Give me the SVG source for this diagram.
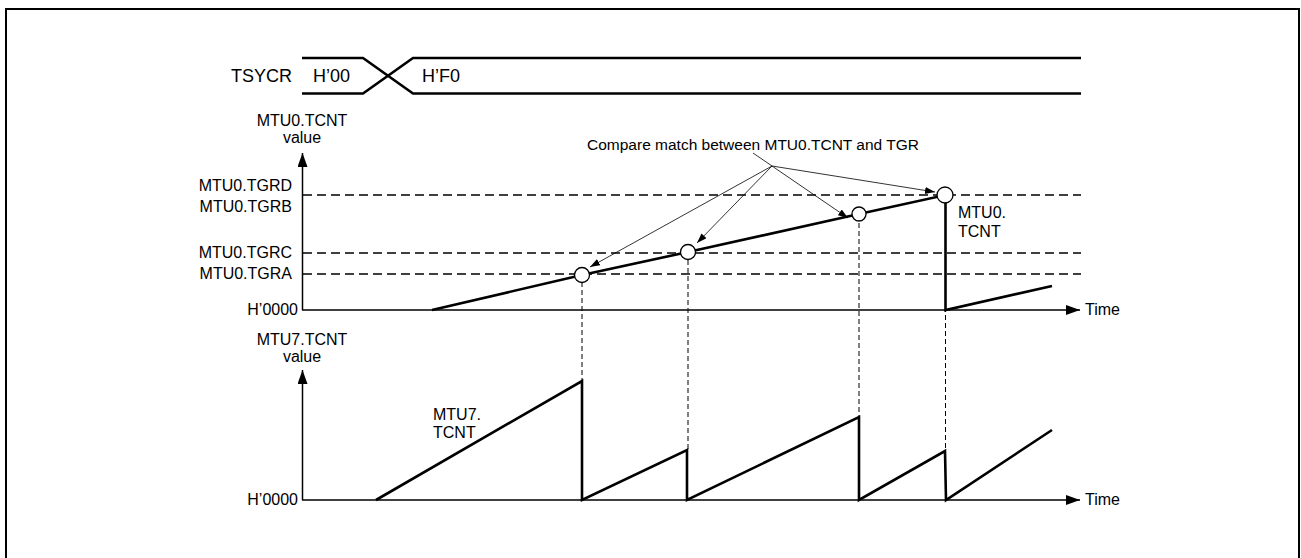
<svg xmlns="http://www.w3.org/2000/svg" width="1301" height="558" viewBox="0 0 1301 558">
<style>
text{font-family:"Liberation Sans",Arial,sans-serif;fill:#000;font-size:16px}
.big{font-size:18px}
.cm{font-size:15.5px}
.end{text-anchor:end}
.mid{text-anchor:middle}
.axis{stroke:#000;stroke-width:1.5;fill:none}
.thick{stroke:#000;stroke-width:2.6;fill:none;stroke-linejoin:miter}
.bus{stroke:#000;stroke-width:2.6;fill:none}
.hdash{stroke:#000;stroke-width:1.3;stroke-dasharray:9 5;fill:none}
.vdash{stroke:#000;stroke-width:1;stroke-dasharray:5 3;fill:none}
.thin{stroke:#000;stroke-width:0.8;fill:none}
.circ{fill:#fff;stroke:#000;stroke-width:1.3}
</style>
<defs>
<marker id="ax" markerUnits="userSpaceOnUse" markerWidth="16" markerHeight="12" refX="14" refY="5" orient="auto">
<path d="M0,0 L14,5 L0,10 Z" fill="#000"/>
</marker>
<marker id="sm" markerUnits="userSpaceOnUse" markerWidth="12" markerHeight="8" refX="10" refY="3.5" orient="auto">
<path d="M0,0 L10,3.5 L0,7 Z" fill="#000"/>
</marker>
</defs>
<path d="M6,560 V9 H1299 V560" fill="none" stroke="#000" stroke-width="2"/>
<g id="tsycr">
<text class="big" x="231" y="82">TSYCR</text>
<path class="bus" d="M302,58 H363 L413,93.5 H1081"/>
<path class="bus" d="M302,93.5 H363 L413,58 H1081"/>
<text class="big" x="313" y="82">H’00</text>
<text class="big" x="422" y="82">H’F0</text>
</g>
<g id="graph0-axes">
<text class="mid" x="302" y="126">MTU0.TCNT</text>
<text class="mid" x="302" y="143">value</text>
<line class="axis" x1="302.5" y1="310" x2="302.5" y2="153" marker-end="url(#ax)"/>
<line class="axis" x1="302" y1="310" x2="1080" y2="310" marker-end="url(#ax)"/>
<text x="1085" y="315">Time</text>
<text class="end" x="298" y="315">H’0000</text>
<text class="end" x="292" y="191">MTU0.TGRD</text>
<text class="end" x="292" y="212">MTU0.TGRB</text>
<text class="end" x="292" y="258">MTU0.TGRC</text>
<text class="end" x="292" y="279">MTU0.TGRA</text>
<line class="hdash" x1="303" y1="195" x2="1081" y2="195"/>
<line class="hdash" x1="303" y1="253" x2="1081" y2="253"/>
<line class="hdash" x1="303" y1="274" x2="1081" y2="274"/>
</g>
<g id="graph1-axes">
<text class="mid" x="302" y="345">MTU7.TCNT</text>
<text class="mid" x="302" y="362">value</text>
<line class="axis" x1="302.5" y1="500" x2="302.5" y2="370" marker-end="url(#ax)"/>
<line class="axis" x1="302" y1="500" x2="1080" y2="500" marker-end="url(#ax)"/>
<text x="1085" y="505">Time</text>
<text class="end" x="298" y="505">H’0000</text>
</g>
<g id="connectors">
<line class="vdash" x1="582" y1="282" x2="582" y2="381"/>
<line class="vdash" x1="688" y1="260" x2="688" y2="450"/>
<line class="vdash" x1="859" y1="215" x2="859" y2="417"/>
<line class="vdash" x1="945.5" y1="203" x2="945.5" y2="451"/>
<line class="thin" x1="753" y1="153" x2="772" y2="166"/>
<line class="thin" x1="772" y1="166" x2="590" y2="267" marker-end="url(#sm)"/>
<line class="thin" x1="772" y1="166" x2="697" y2="243" marker-end="url(#sm)"/>
<line class="thin" x1="772" y1="166" x2="848" y2="218" marker-end="url(#sm)"/>
<line class="thin" x1="772" y1="166" x2="935" y2="192" marker-end="url(#sm)"/>
</g>
<g id="mtu0-tcnt">
<polyline class="thick" points="432,310 582,275 688,252 859,214 945.5,195 945.5,310 1052,286"/>
<circle class="circ" cx="582" cy="275" r="7.5"/>
<circle class="circ" cx="688" cy="252" r="7.5"/>
<circle class="circ" cx="859" cy="214" r="7"/>
<circle class="circ" cx="945" cy="195" r="8"/>
<text x="958" y="218">MTU0.</text>
<text x="958" y="237">TCNT</text>
</g>
<g id="compare-label">
<text class="cm" x="587" y="150">Compare match between MTU0.TCNT and TGR</text>
</g>
<g id="mtu7-tcnt">
<polyline class="thick" points="376,500 582,381 582,500 687,450 687,500 859,417 859,500 945,451 946,500 1052,430"/>
<text x="433" y="420">MTU7.</text>
<text x="433" y="438">TCNT</text>
</g>
</svg>
